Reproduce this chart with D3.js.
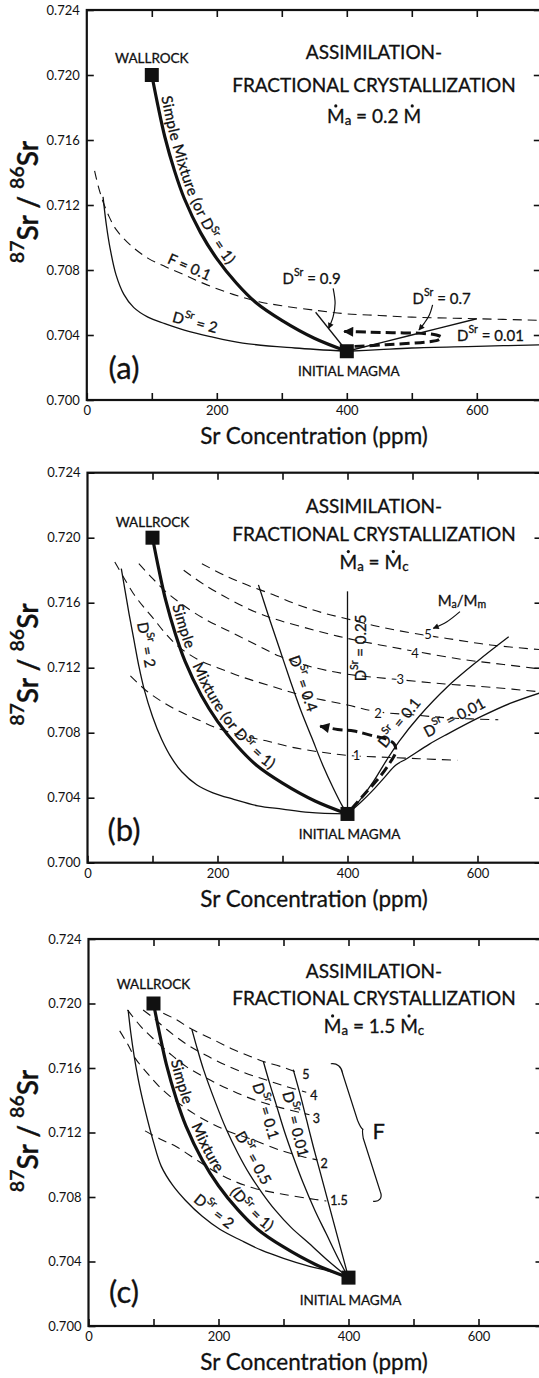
<!DOCTYPE html>
<html>
<head>
<meta charset="utf-8">
<script src="https://cdn.jsdelivr.net/npm/d3@7"></script>
<style>
  body { margin: 0; background: #fff; }
  svg { display: block; }
  text { font-family: Lato, "Open Sans", "DejaVu Sans", sans-serif; fill: #111; stroke: #111; stroke-width: 0.3px; }
  .axis path, .axis line { stroke: #111; }
  .axis line { stroke-width: 1.6; }
  .axis text { font-size: 13px; fill: #111; stroke: none; }
  .frame { fill: none; stroke: #111; stroke-width: 2.2; }
  .thin { fill: none; stroke: #111; stroke-width: 1.3; }
  .thick { fill: none; stroke: #111; stroke-width: 3.2; }
  .dash { fill: none; stroke: #111; stroke-width: 1.1; stroke-dasharray: 9 6; }
  .bigdash { fill: none; stroke: #111; stroke-width: 3; stroke-dasharray: 10 5; }
  .pointer { fill: none; stroke: #111; stroke-width: 1.2; }
  text.halo { paint-order: stroke; stroke: #fff; stroke-width: 4px; stroke-linejoin: round; }
</style>
</head>
<body>
<svg id="fig" width="539" height="1378"></svg>
<script>
// ---------- axis ticks ----------
const xTickValues = [0, 100, 200, 300, 400, 500, 600, 700];
const xTickLabels = [0, 200, 400, 600];
const yTickValues = [0.700, 0.704, 0.708, 0.712, 0.716, 0.720, 0.724];

// ---------- end members (Sr ppm, 87Sr/86Sr) ----------
const wallrock = [100, 0.720];
const initialMagma = [400, 0.703];

// simple two-component mixture, identical in all three panels
const simpleMixture = [[100,0.7200],[110,0.7180],[120,0.7162],[135,0.7141],[150,0.7124],[175,0.7103],
  [200,0.7087],[230,0.7072],[260,0.7060],[300,0.7049],[350,0.7038],[400,0.7030]];

// ---------- panel (a): Ma = 0.2 M ----------
const aD2   = [[25,0.7125],[30,0.7108],[36,0.7093],[45,0.7077],[57,0.7065],[72,0.7057],[94,0.7051],
  [120,0.7047],[150,0.7043],[190,0.7039],[240,0.7035],[320,0.7032],[400,0.7030]];
const aF01  = [[12,0.7141],[18,0.7131],[25,0.7122],[33,0.7114],[45,0.7105],[68,0.7095],[95,0.7087],
  [121,0.7082],[150,0.7077],[184,0.7071],[225,0.7065],[265,0.70605],[300,0.7058],[356,0.7055],
  [400,0.7053],[450,0.7052],[500,0.7051],[600,0.7050],[700,0.7049]];
const aD09  = [[352,0.7054],[400,0.7030]];
const aD07  = [[400,0.7030],[500,0.7040],[600,0.7050]];
const aD001 = [[400,0.7030],[450,0.7031],[500,0.7032],[600,0.7033],[700,0.7034]];
const aPath = [[412,0.7033],[460,0.7034],[523,0.70357],[540,0.70368],[546,0.70385],[538,0.7040],
  [515,0.7041],[470,0.70414],[430,0.70418],[396,0.70422]];
const aPointer09 = [[379,0.70687],[382,0.70595],[379,0.70513],[372,0.70441]];
const aPointer07 = [[532,0.70585],[527,0.70523],[519,0.70472],[511,0.70431]];

// ---------- panel (b): Ma = Mc ----------
const bD2   = [[52,0.7181],[58,0.7167],[64,0.7153],[71,0.7138],[79,0.7121],[87,0.7107],[100,0.7090],
  [114,0.7076],[130,0.7064],[145,0.7056],[168,0.7048],[193,0.7043],[225,0.7039],[262,0.7035],
  [300,0.7033],[341,0.7031],[400,0.7030]];
const bD04  = [[263,0.7171],[280,0.7150],[296,0.7131],[312,0.7112],[328,0.7094],[345,0.7077],
  [362,0.7060],[378,0.7046],[392,0.7035],[400,0.7030]];
const bD025 = [[400,0.7030],[400,0.7167]];
const bD01  = [[400,0.7030],[420,0.7039],[440,0.7050],[460,0.7063],[480,0.7075],[510,0.7090],
  [553,0.7108],[600,0.7124],[648,0.7139]];
const bD001 = [[400,0.7030],[420,0.7037],[440,0.7045],[458,0.7053],[474,0.7060],[491,0.7064],
  [526,0.7073],[553,0.7079],[606,0.7090],[650,0.7098],[700,0.7105]];
const bPath = [[406,0.7033],[428,0.7043],[450,0.7053],[466,0.7062],[474,0.7068],[472,0.7073],
  [460,0.7076],[440,0.7078],[410,0.7081],[385,0.7082],[358,0.7084]];
const bMaMm1 = [[66,0.7115],[90,0.7106],[115,0.7099],[142,0.7093],[170,0.7088],[198,0.7083],[240,0.7078],
  [275,0.7075],[315,0.7071],[360,0.7068],[400,0.7066],[450,0.7065],[510,0.7064],[569,0.7063]];
const bMaMm2 = [[42,0.7185],[55,0.7176],[70,0.7166],[85,0.7158],[100,0.7151],[120,0.7141],[140,0.7133],
  [170,0.7125],[200,0.7120],[240,0.7114],[280,0.7109],[330,0.7103],[400,0.7097],[444,0.7093],
  [500,0.7091],[560,0.7089],[632,0.7088]];
const bMaMm3 = [[79,0.7184],[100,0.7175],[120,0.7167],[142,0.7160],[180,0.7150],[220,0.7142],[260,0.7134],
  [296,0.7127],[340,0.7121],[400,0.7116],[470,0.7113],[550,0.7110],[620,0.7108],[700,0.7105]];
const bMaMm4 = [[148,0.7180],[180,0.7171],[219,0.7162],[260,0.7154],[296,0.7149],[350,0.7143],[400,0.7138],
  [450,0.7134],[505,0.7130],[578,0.7125],[640,0.7122],[700,0.7119]];
const bMaMm5 = [[176,0.7184],[210,0.7177],[245,0.7171],[285,0.7165],[322,0.7159],[360,0.7154],[400,0.7150],
  [440,0.7146],[476,0.7143],[520,0.7140],[553,0.7138],[620,0.7134],[700,0.7131]];
const bMaMmLabels = [["1",414,0.7066],["2",447,0.7092],["3",481,0.7113],["4",504,0.7129],["5",524,0.7141]];
const bPointerM = [[573,0.71545],[553,0.71483],[532,0.71442]];

// ---------- panel (c): Ma = 1.5 Mc ----------
const cD2   = [[61,0.7196],[65,0.7182],[70,0.7168],[78,0.7150],[87,0.7134],[100,0.7114],[112,0.7099],
  [130,0.7087],[149,0.7078],[175,0.7068],[202,0.7060],[235,0.7053],[266,0.7047],[300,0.7042],
  [340,0.7037],[370,0.7034],[400,0.7030]];
const cD05  = [[159,0.7184],[168,0.7171],[177,0.7159],[195,0.7139],[212,0.7122],[230,0.7107],[248,0.7094],
  [268,0.7082],[287,0.7072],[312,0.7061],[340,0.7051],[370,0.7040],[400,0.7030]];
const cD01  = [[269,0.7164],[279,0.7150],[289,0.7137],[302,0.7120],[315,0.7105],[330,0.7089],[348,0.7072],
  [366,0.7057],[384,0.7042],[400,0.7030]];
const cD001 = [[315,0.7159],[326,0.7143],[336,0.7127],[346,0.7111],[356,0.7096],[366,0.7081],[376,0.7066],
  [388,0.7048],[400,0.7030]];
const cF5   = [[115,0.7194],[135,0.7190],[159,0.7184],[190,0.7178],[220,0.7172],[250,0.7167],[269,0.7164],
  [295,0.7161],[323,0.7157]];
const cF4   = [[84,0.7196],[100,0.7191],[120,0.7184],[150,0.7175],[180,0.7168],[210,0.7162],[240,0.7157],
  [270,0.7153],[300,0.7149],[335,0.7145]];
const cF3   = [[60,0.7196],[80,0.7186],[100,0.7178],[125,0.7169],[150,0.7161],[180,0.7154],[215,0.7147],
  [250,0.7141],[290,0.7136],[340,0.7131]];
const cF2   = [[48,0.7183],[60,0.7175],[72,0.7166],[90,0.7157],[110,0.7148],[136,0.7139],[165,0.7131],
  [192,0.7125],[220,0.7120],[250,0.7116],[295,0.7109],[330,0.7105],[352,0.7103]];
const cF15  = [[87,0.7121],[110,0.7116],[136,0.7111],[170,0.7102],[207,0.7093],[250,0.7086],[295,0.7082],
  [340,0.7079],[366,0.70775]];
const cFLabels = [["5",329,0.7156],["4",341,0.7143],["3",345,0.7129],["2",357,0.7101],["1.5",372,0.7078]];
const cBrace = [[382,0.7162],[422,0.7122],[448.5,0.7078]];

// ---------- layout ----------
const panels = [
  { id: "a", left: 86.8, top: 10,    bottom: 400,   titleY: [40.5, 74, 105], wallY: 47.5, tagY: 357 },
  { id: "b", left: 87.5, top: 472.7, bottom: 862.7, titleY: [32, 60, 88],    wallY: 49,   tagY: 356 },
  { id: "c", left: 88.5, top: 939,   bottom: 1326,  titleY: [31, 58, 86],    wallY: 45,   tagY: 352 }
];
const plotWidth = 455;   // 0 .. 700 ppm
const LABEL_FS = 15;

const svg = d3.select("#fig");
const defs = svg.append("defs");
function marker(id, len, wid) {
  defs.append("marker").attr("id", id).attr("viewBox", "0 0 10 10")
    .attr("refX", 9).attr("refY", 5).attr("markerUnits", "userSpaceOnUse")
    .attr("markerWidth", len).attr("markerHeight", wid).attr("orient", "auto")
    .append("path").attr("d", "M0,0 L10,5 L0,10 Z").attr("fill", "#111");
}
marker("headBig", 13, 10);
marker("headSmall", 7, 6);

// ---------- helpers ----------
const Dsr = v => [{ t: "D" }, { t: "Sr", sup: true }, { t: " = " + v }];

function addParts(sel, parts, fs, base = 0) {
  let shift = 0;
  parts.forEach(p => {
    const want = base + (p.sup ? -fs * 0.38 : p.sub ? fs * 0.28 : 0);
    const ts = sel.append("tspan").text(p.t).attr("dy", want - shift);
    if (p.sup || p.sub) ts.attr("font-size", fs * 0.7);
    shift = want;
  });
}

function curveGen(s) {
  return d3.line().x(d => s.x(d[0])).y(d => s.y(d[1])).curve(d3.curveCatmullRom.alpha(0.5));
}

function draw(g, s, data, cls, extra) {
  const p = g.append("path").datum(data).attr("class", cls).attr("d", curveGen(s));
  if (extra) extra(p);
  return p.node();
}

// point on a drawn path where the pixel x (or y) reaches target, with local direction
function locate(node, key, target) {
  const L = node.getTotalLength();
  let prev = node.getPointAtLength(0);
  for (let l = 0.5; l <= L; l += 0.5) {
    const p = node.getPointAtLength(l);
    const a = key === "x" ? prev.x : prev.y, b = key === "x" ? p.x : p.y;
    if ((a - target) * (b - target) <= 0 && a !== b) {
      const p1 = node.getPointAtLength(Math.max(0, l - 5));
      const p2 = node.getPointAtLength(Math.min(L, l + 5));
      return { x: p.x, y: p.y, len: l, ang: Math.atan2(p2.y - p1.y, p2.x - p1.x) * 180 / Math.PI };
    }
    prev = p;
  }
  return { x: 0, y: 0, len: 0, ang: 0 };
}

// label set parallel to a curve, shifted along its normal (positive = text "up" side)
function labelOn(g, node, key, target, parts, o = {}) {
  const fs = o.fs || LABEL_FS, off = o.off || 0;
  const q = locate(node, key, target);
  const th = q.ang * Math.PI / 180;
  const px = q.x + off * Math.sin(th), py = q.y - off * Math.cos(th);
  const t = g.append("text").attr("transform", `translate(${px},${py}) rotate(${q.ang})`)
    .attr("text-anchor", "middle").attr("dominant-baseline", "central").attr("font-size", fs);
  addParts(t, parts, fs);
  return t;
}

function textAlong(g, node, pathId, startX, parts, o = {}) {
  const fs = o.fs || LABEL_FS;
  const q = locate(node, "x", startX);
  const t = g.append("text").attr("font-size", fs).attr("letter-spacing", o.ls || 0.4);
  const tp = t.append("textPath").attr("href", "#" + pathId).attr("startOffset", q.len);
  addParts(tp, parts, fs, -(o.off || 5));
}

function plain(g, x, y, parts, o = {}) {
  const fs = o.fs || LABEL_FS;
  const t = g.append("text").attr("x", x).attr("y", y).attr("font-size", fs)
    .attr("text-anchor", o.anchor || "middle").attr("dominant-baseline", "central");
  if (o.weight) t.attr("font-weight", o.weight);
  addParts(t, parts, fs);
  return t;
}

// ---------- one panel frame: axes, titles, end members ----------
function framePanel(p, flowParts) {
  const s = {
    x: d3.scaleLinear([0, 700], [p.left, p.left + plotWidth]),
    y: d3.scaleLinear([0.700, 0.724], [p.bottom, p.top])
  };
  const g = svg.append("g").attr("id", "panel-" + p.id);

  g.append("g").attr("class", "axis").attr("transform", `translate(0,${p.bottom})`)
    .call(d3.axisBottom(s.x).tickValues(xTickValues).tickSize(-7).tickSizeOuter(0).tickPadding(6)
      .tickFormat(d => xTickLabels.includes(d) ? d : ""));
  g.append("g").attr("class", "axis").attr("transform", `translate(0,${p.top})`)
    .call(d3.axisTop(s.x).tickValues(xTickValues.slice(1)).tickSize(-7).tickSizeOuter(0).tickFormat(""));
  g.append("g").attr("class", "axis").attr("transform", `translate(${p.left},0)`)
    .call(d3.axisLeft(s.y).tickValues(yTickValues).tickSize(-7).tickSizeOuter(0).tickPadding(7)
      .tickFormat(d3.format(".3f")));
  g.append("g").attr("class", "axis").attr("transform", `translate(${p.left + plotWidth},0)`)
    .call(d3.axisRight(s.y).tickValues(yTickValues).tickSize(-8).tickSizeOuter(0).tickFormat(""));
  g.selectAll(".axis .domain").remove();
  g.append("rect").attr("class", "frame").attr("x", p.left).attr("y", p.top)
    .attr("width", plotWidth).attr("height", p.bottom - p.top);

  // axis titles
  plain(g, 314, p.bottom + 35, [{ t: "Sr Concentration (ppm)" }], { fs: 22.5 });
  const yt = g.append("text").attr("transform", `translate(27,${p.top + 192}) rotate(-90)`)
    .attr("text-anchor", "middle").attr("dominant-baseline", "central").attr("font-size", 28)
    .attr("font-weight", 600);
  addParts(yt, [{ t: "87", sup: true }, { t: "Sr" }, { t: " / " }, { t: "86", sup: true }, { t: "Sr" }], 28);

  // title block; mass-flow rates carry an overdot
  const cx = 374, fs = 19;
  plain(g, cx, p.top + p.titleY[0], [{ t: "ASSIMILATION-" }], { fs });
  plain(g, cx, p.top + p.titleY[1], [{ t: "FRACTIONAL CRYSTALLIZATION" }], { fs });
  const ft = plain(g, cx, p.top + p.titleY[2], flowParts, { fs });
  let idx = 0;
  flowParts.forEach(part => {
    if (part.dot) {
      const e = ft.node().getExtentOfChar(idx);
      g.append("circle").attr("cx", e.x + e.width / 2).attr("cy", e.y + 2.4).attr("r", 1.6).attr("fill", "#111");
    }
    idx += part.t.length;
  });

  // panel tag and end-member labels
  plain(g, 124, p.top + p.tagY, [{ t: "(" + p.id + ")" }], { fs: 31 });
  plain(g, s.x(wallrock[0]), p.top + p.wallY, [{ t: "WALLROCK" }], { fs: 13.5 });
  plain(g, s.x(initialMagma[0]) + 2, p.top + 361, [{ t: "INITIAL MAGMA" }], { fs: 13.5 });
  return { g, s };
}

function endMembers(g, s) {
  [wallrock, initialMagma].forEach(d => {
    g.append("rect").attr("x", s.x(d[0]) - 7).attr("y", s.y(d[1]) - 7)
      .attr("width", 14).attr("height", 14).attr("fill", "#111");
  });
}

// ================= panel (a) =================
{
  const { g, s } = framePanel(panels[0],
    [{ t: "M", dot: true }, { t: "a", sub: true }, { t: " = 0.2 " }, { t: "M", dot: true }]);
  const f01 = draw(g, s, aF01, "dash");
  const d2 = draw(g, s, aD2, "thin");
  draw(g, s, aD09, "thin");
  draw(g, s, aD07, "thin");
  draw(g, s, aD001, "thin");
  const mix = draw(g, s, simpleMixture, "thick", p => p.attr("id", "mixA"));
  draw(g, s, aPath, "bigdash", p => p.attr("marker-end", "url(#headBig)"));
  draw(g, s, aPointer09, "pointer", p => p.attr("marker-end", "url(#headSmall)"));
  draw(g, s, aPointer07, "pointer", p => p.attr("marker-end", "url(#headSmall)"));
  endMembers(g, s);

  textAlong(g, mix, "mixA", s.x(107), [{ t: "Simple Mixture (or " }, ...Dsr("1"), { t: ")" }]);
  labelOn(g, f01, "x", s.x(152), [{ t: "F = 0.1" }], { off: 10 });
  labelOn(g, d2, "x", s.x(162), Dsr("2"), { off: 11 });
  plain(g, s.x(346), s.y(0.7075), Dsr("0.9"));
  plain(g, s.x(546), s.y(0.7063), Dsr("0.7"));
  plain(g, s.x(621), s.y(0.7040), Dsr("0.01"));
}

// ================= panel (b) =================
{
  const { g, s } = framePanel(panels[1],
    [{ t: "M", dot: true }, { t: "a", sub: true }, { t: " = " }, { t: "M", dot: true }, { t: "c", sub: true }]);
  [bMaMm1, bMaMm2, bMaMm3, bMaMm4, bMaMm5].forEach(c => draw(g, s, c, "dash"));
  const d2 = draw(g, s, bD2, "thin");
  const d04 = draw(g, s, bD04, "thin");
  const d025 = draw(g, s, bD025, "thin");
  const d01 = draw(g, s, bD01, "thin");
  const d001 = draw(g, s, bD001, "thin");
  const mix = draw(g, s, simpleMixture, "thick", p => p.attr("id", "mixB"));
  draw(g, s, bPath, "bigdash", p => p.attr("marker-end", "url(#headBig)"));
  draw(g, s, bPointerM, "pointer", p => p.attr("marker-end", "url(#headSmall)"));
  endMembers(g, s);

  bMaMmLabels.forEach(([t, x, y]) => plain(g, s.x(x), s.y(y), [{ t }], { fs: 13 }).attr("class", "halo"));
  plain(g, s.x(576), s.y(0.71617), [{ t: "M" }, { t: "a", sub: true }, { t: "/M" }, { t: "m", sub: true }], { fs: 15 });

  textAlong(g, mix, "mixB", s.x(123), [{ t: "Simple" }]);
  textAlong(g, mix, "mixB", s.x(154), [{ t: "Mixture  (or " }, ...Dsr("1"), { t: ")" }]);
  labelOn(g, d2, "y", s.y(0.7133), Dsr("2"), { off: 12 });
  labelOn(g, d04, "y", s.y(0.7108), Dsr("0.4"), { off: 12 });
  labelOn(g, d025, "y", s.y(0.7132), Dsr("0.25"), { off: -12 });
  labelOn(g, d01, "x", s.x(493), Dsr("0.1"), { off: 12 });
  labelOn(g, d001, "x", s.x(572), Dsr("0.01"), { off: 12 });
}

// ================= panel (c) =================
{
  const { g, s } = framePanel(panels[2],
    [{ t: "M", dot: true }, { t: "a", sub: true }, { t: " = 1.5 " }, { t: "M", dot: true }, { t: "c", sub: true }]);
  [cF5, cF4, cF3, cF2, cF15].forEach(c => draw(g, s, c, "dash"));
  const d2 = draw(g, s, cD2, "thin");
  const d05 = draw(g, s, cD05, "thin");
  const d01 = draw(g, s, cD01, "thin");
  const d001 = draw(g, s, cD001, "thin");
  const mix = draw(g, s, simpleMixture, "thick", p => p.attr("id", "mixC"));
  endMembers(g, s);

  cFLabels.forEach(([t, x, y]) => plain(g, s.x(x), s.y(y), [{ t }], { fs: 12.5, anchor: "start" }));

  // curly bracket grouping the F contours
  const [T, P, B] = cBrace.map(d => [s.x(d[0]), s.y(d[1])]);
  const sx = y => T[0] + 3 + (y - T[1]) * (B[0] - T[0]) / (B[1] - T[1]);
  const br = d3.path();
  br.moveTo(T[0] - 6, T[1] - 1);
  br.bezierCurveTo(T[0], T[1] - 2, sx(T[1] + 3) + 1, T[1] + 2, sx(T[1] + 9), T[1] + 9);
  br.lineTo(sx(P[1] - 9), P[1] - 9);
  br.quadraticCurveTo(sx(P[1] - 2) + 1, P[1] - 1, P[0], P[1]);
  br.quadraticCurveTo(sx(P[1] + 2) + 1, P[1] + 1, sx(P[1] + 9), P[1] + 9);
  br.lineTo(sx(B[1] - 9), B[1] - 9);
  br.bezierCurveTo(sx(B[1] - 3) + 1, B[1] - 2, B[0] - 1, B[1] + 2, B[0] - 7, B[1] + 1);
  g.append("path").attr("d", br.toString()).attr("class", "pointer");
  plain(g, P[0] + 16, P[1] + 1, [{ t: "F" }], { fs: 22 });

  textAlong(g, mix, "mixC", s.x(119), [{ t: "Simple" }]);
  textAlong(g, mix, "mixC", s.x(151), [{ t: "Mixture" }]);
  textAlong(g, mix, "mixC", s.x(211), [{ t: "(" }, ...Dsr("1"), { t: ")" }]);
  labelOn(g, d2, "x", s.x(182), Dsr("2"), { off: 12 });
  labelOn(g, d05, "x", s.x(238), Dsr("0.5"), { off: 12 });
  labelOn(g, d01, "x", s.x(290), Dsr("0.1"), { off: -11 });
  labelOn(g, d001, "x", s.x(336), Dsr("0.01"), { off: -11 });
}
</script>
</body>
</html>
